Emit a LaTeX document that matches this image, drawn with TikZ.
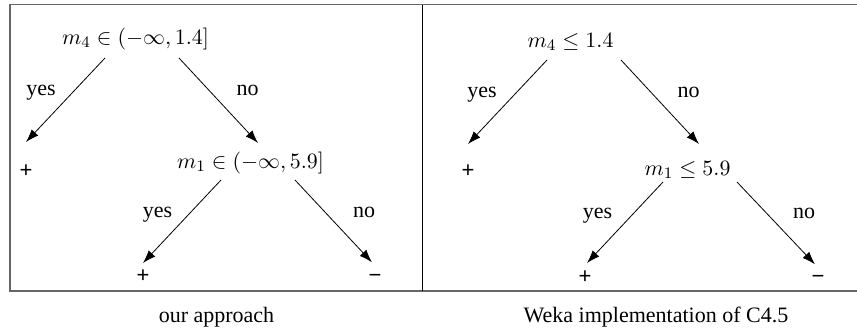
\documentclass[tikz,border=0pt]{standalone}
\usepackage[no-math]{fontspec}
\setmainfont{Liberation Serif}
\newfontfamily\signfont{Liberation Sans}
\usetikzlibrary{arrows.meta,calc}
\begin{document}
\begin{tikzpicture}[x=0.5pt,y=-0.5pt,
  every node/.style={inner sep=0pt,font=\fontsize{11}{13}\selectfont},
  lab/.style={anchor=base},
  cond/.style={anchor=base},
  leaf/.style={anchor=center,font=\fontsize{11}{13}\selectfont\signfont},
  arr/.style={line width=0.4pt,-{Latex[length=6.5pt,width=4.5pt]}},
  frame/.style={line width=0.65pt,draw=black!60},
  divider/.style={line width=0.6pt,draw=black}]
\useasboundingbox (0,0) rectangle (857,329);
% frame
\draw[frame] (857,4.5) -- (10,4.5) -- (10,291) -- (857,291);
\draw[divider] (422.5,4.5) -- (422.5,291);
% ---- left tree
\node[cond] (A) at (135.5,44) {$m_4 \in (-\infty, 1.4]$};
\node[cond] (B) at (250.5,168) {$m_1 \in (-\infty, 5.9]$};
\node[leaf] (P1) at (26,171) {+};
\node[leaf] (P2) at (143,276) {+};
\node[leaf,anchor=base] (M2) at (375,0 |- P2.base) {−};
\node[lab] (ly1) at (41,95) {yes};
\node[lab] (ln1) at (247.5,95) {no};
\node[lab] (ly2) at (157.5,217) {yes};
\node[lab] (ln2) at (364,217) {no};
\draw[arr] ($(A.base)+(-30.5,14)$) -- ($(P1)+(0,-29)$);
\draw[arr] ($(A.base)+(43.5,14)$) -- ($(B.base)+(7.5,-25)$);
\draw[arr] ($(B.base)+(-29.5,12)$) -- ($(P2)+(0,-13)$);
\draw[arr] ($(B.base)+(44.5,12)$) -- ($(M2.base)+(-3,-20)$);
% ---- right tree
\node[cond] (C) at (570.5,47) {$m_4 \le 1.4$};
\node[cond] (D) at (687.5,175) {$m_1 \le 5.9$};
\node[leaf] (P3) at (468,171) {+};
\node[leaf] (P4) at (585,277) {+};
\node[leaf,anchor=base] (M4) at (818,0 |- P4.base) {−};
\node[lab] (ry1) at (482,97) {yes};
\node[lab] (rn1) at (688.5,97) {no};
\node[lab] (ry2) at (597.5,218) {yes};
\node[lab] (rn2) at (804,218) {no};
\draw[arr] ($(C.base)+(-23.5,13)$) -- ($(P3)+(0,-27)$);
\draw[arr] ($(C.base)+(50.5,13)$) -- ($(D.base)+(11.5,-31)$);
\draw[arr] ($(D.base)+(-24.5,7)$) -- ($(P4)+(2,-14)$);
\draw[arr] ($(D.base)+(49.5,7)$) -- ($(M4.base)+(-3,-19)$);
% captions
\node[lab] (cap1) at (216.5,322) {our approach};
\node[lab] (cap2) at (656,322) {Weka implementation of C4.5};
\end{tikzpicture}
\end{document}
